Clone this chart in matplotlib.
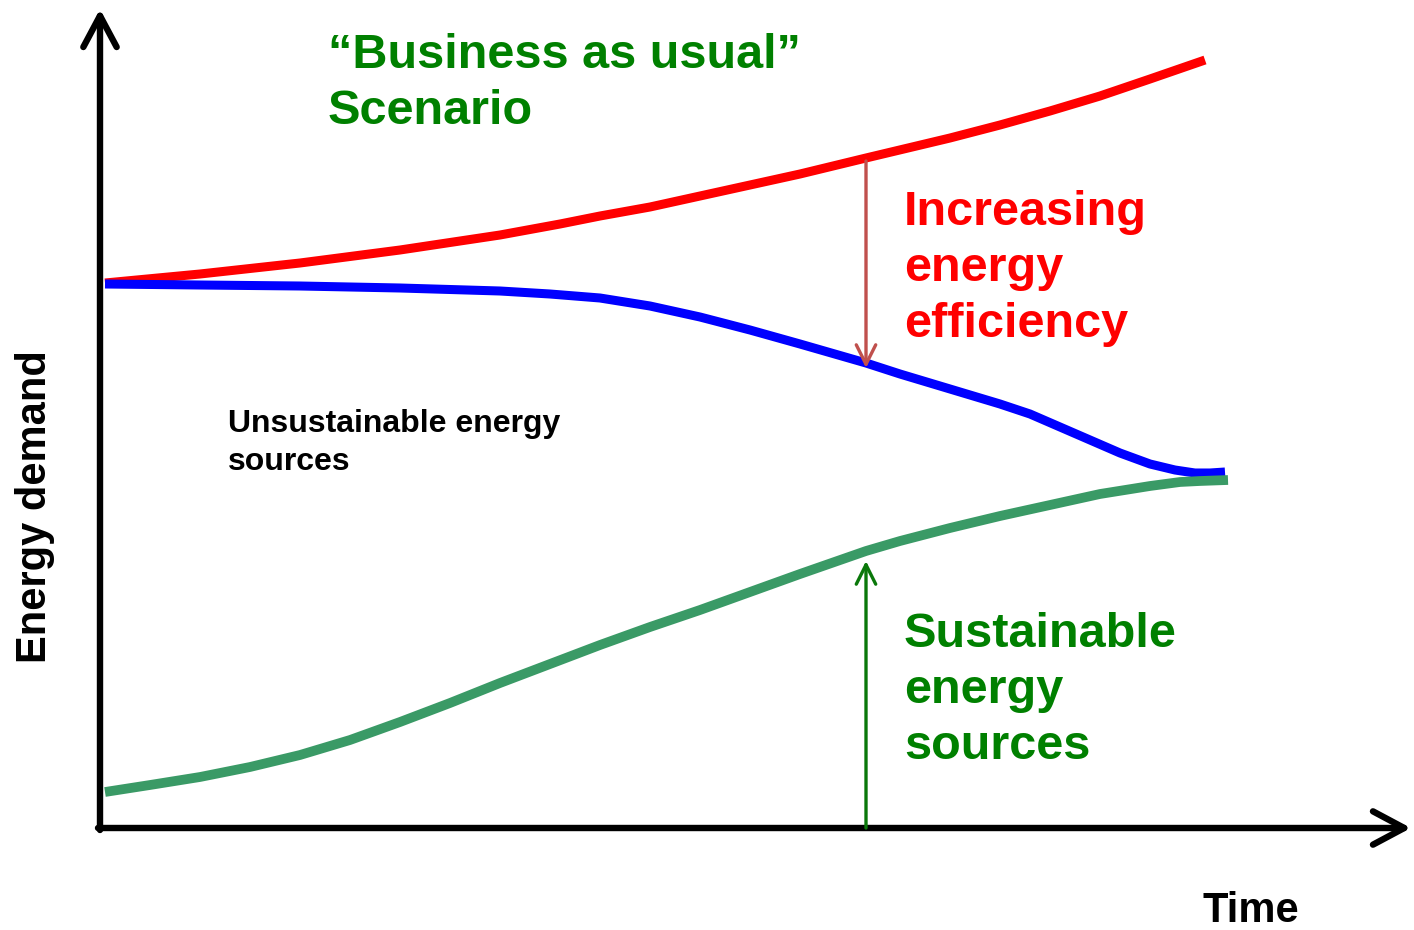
import matplotlib
matplotlib.use('Agg')
import matplotlib.pyplot as plt

plt.rcParams['font.family'] = ['Liberation Sans', 'DejaVu Sans']

# time / demand units, origin at the axis corner
bau_time = [5, 100, 200, 300, 400, 460, 500, 550, 600, 650, 700, 766, 850, 900, 950, 1000,
            1050, 1105]
bau_demand = [545, 554, 565, 578, 593, 604, 612, 621, 632, 643, 654, 670, 690, 703, 717, 732,
              749, 768]

unsust_time = [5, 100, 200, 300, 400, 450, 500, 550, 600, 650, 700, 766, 800, 850, 900,
               930, 960, 990, 1020, 1050, 1075, 1095, 1110, 1125]
unsust_demand = [544, 543, 542, 540, 537, 534, 530, 522, 511, 498, 484, 465, 454, 439, 424,
                 414, 401, 388, 375, 364, 358, 355, 355, 356]

sust_time = [5, 50, 100, 150, 200, 250, 300, 350, 400, 450, 500, 550, 600, 650, 700, 766,
             800, 850, 900, 950, 1000, 1050, 1080, 1100, 1128]
sust_demand = [36, 43, 51, 61, 73, 88, 106, 125, 145, 164, 183, 201, 218, 236, 254, 277,
               287, 300, 312, 323, 334, 342, 346, 347, 348]

gap_time = 766

fig = plt.figure(figsize=(14.14, 9.3), dpi=100)
ax = fig.add_axes([0, 0, 1, 1])
ax.set_xlim(-100, 1314)
ax.set_ylim(-102, 828)
ax.axis('off')

# axes with open arrow heads
axis_arrow = dict(arrowstyle='->,head_length=0.75,head_width=0.4', lw=4.6,
                  color='black', mutation_scale=30, shrinkA=0, shrinkB=0,
                  capstyle='round', joinstyle='round')
ax.annotate('', xy=(0, 819), xytext=(0, -2), arrowprops=axis_arrow)
ax.annotate('', xy=(1311, 0), xytext=(-2, 0), arrowprops=axis_arrow)

ax.plot(bau_time, bau_demand, color='#ff0000', lw=6.5, solid_capstyle='butt',
        solid_joinstyle='round')
ax.plot(unsust_time, unsust_demand, color='#0000ff', lw=6.5, solid_capstyle='butt',
        solid_joinstyle='round')
ax.plot(sust_time, sust_demand, color='#3a9a66', lw=7, solid_capstyle='butt',
        solid_joinstyle='round')

# gap arrows
ax.annotate('', xy=(gap_time, 460), xytext=(gap_time, 667),
            arrowprops=dict(arrowstyle='->,head_length=0.7,head_width=0.35', lw=2.4,
                            color='#c0504d', mutation_scale=20, shrinkA=0, shrinkB=0))
ax.annotate('', xy=(gap_time, 267), xytext=(gap_time, 0),
            arrowprops=dict(arrowstyle='->,head_length=0.7,head_width=0.35', lw=2.4,
                            color='#0a780a', mutation_scale=20, shrinkA=0, shrinkB=0))

ax.text(228, 795, '\u201cBusiness as usual\u201d\nScenario', color='#008000', fontsize=35,
        fontweight='bold', ha='left', va='top', linespacing=1.31)
ax.text(804, 638, 'Increasing\nenergy\nefficiency', color='#ff0000', fontsize=35,
        fontweight='bold', ha='left', va='top', linespacing=1.31)
ax.text(804, 216, 'Sustainable\nenergy\nsources', color='#008000', fontsize=35,
        fontweight='bold', ha='left', va='top', linespacing=1.31)
ax.text(128, 419, 'Unsustainable energy\nsources', color='black', fontsize=23,
        fontweight='bold', ha='left', va='top', linespacing=1.34)
ax.text(-65, 321, 'Energy demand', color='black', fontsize=30, fontweight='bold',
        rotation=90, ha='center', va='center')
ax.text(1151, -83, 'Time', color='black', fontsize=30, fontweight='bold',
        ha='center', va='center')

fig.savefig('out.png', dpi=100)
